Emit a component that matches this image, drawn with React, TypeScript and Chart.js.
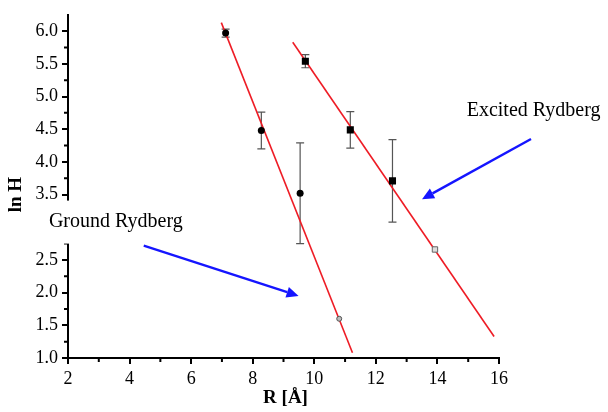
import React, { useEffect, useRef } from "react";
import { Chart, registerables } from "chart.js";
Chart.register(...registerables);

// ---- data ----
const groundR = [7.12, 8.28, 9.54];
const groundLnH = [5.97, 4.48, 3.52];
const groundErr = [0.06, 0.28, 0.77];
const groundOpenR = [10.81];
const groundOpenLnH = [1.6];

const excitedR = [9.71, 11.17, 12.54];
const excitedLnH = [5.54, 4.49, 3.71];
const excitedErr = [0.1, 0.28, 0.63];
const excitedOpenR = [13.92];
const excitedOpenLnH = [2.66];

const groundFitR = [6.98, 11.24];
const groundFitLnH = [6.13, 1.08];
const excitedFitR = [9.3, 15.84];
const excitedFitLnH = [5.83, 1.33];

const xMin = 2, xMax = 16, xStep = 2;
const yMin = 1.0, yMax = 6.25, yStep = 0.5;

// annotation anchors (data coordinates)
const groundArrowFrom = [4.46, 2.72];
const groundArrowTo = [9.49, 1.95];
const excitedArrowFrom = [17.04, 4.35];
const excitedArrowTo = [13.5, 3.43];
const groundLabel = { text: "Ground Rydberg", x: 1.38, y: 3.01 };
const excitedLabel = { text: "Excited Rydberg", x: 14.95, y: 4.7 };
const xTitle = "R [Å]";
const yTitle = "ln H";

const SERIF = "'Liberation Serif', 'Times New Roman', serif";

const pts = (xs: number[], ys: number[]) => xs.map((x, i) => ({ x, y: ys[i] }));

export default function App() {
  const ref = useRef<HTMLCanvasElement>(null);
  useEffect(() => {
    if (!ref.current) return;
    const plugin = {
      id: "extras",
      beforeDatasetsDraw(chart: any) {
        const { ctx, scales } = chart;
        const xs = scales.x, ys = scales.y;
        ctx.save();
        ctx.strokeStyle = "#555";
        ctx.lineWidth = 1.2;
        const drawErr = (rs: number[], vs: number[], es: number[]) => {
          rs.forEach((r, i) => {
            const px = xs.getPixelForValue(r);
            const t = ys.getPixelForValue(vs[i] + es[i]);
            const b = ys.getPixelForValue(vs[i] - es[i]);
            ctx.beginPath();
            ctx.moveTo(px, t); ctx.lineTo(px, b);
            ctx.moveTo(px - 4, t); ctx.lineTo(px + 4, t);
            ctx.moveTo(px - 4, b); ctx.lineTo(px + 4, b);
            ctx.stroke();
          });
        };
        drawErr(groundR, groundLnH, groundErr);
        drawErr(excitedR, excitedLnH, excitedErr);
        ctx.restore();
      },
      afterDraw(chart: any) {
        const { ctx, scales, chartArea } = chart;
        const xs = scales.x, ys = scales.y;
        ctx.save();
        // minor ticks
        ctx.strokeStyle = "#000";
        ctx.lineWidth = 2;
        ctx.beginPath();
        for (let v = xMin + xStep / 2; v < xMax; v += xStep) {
          const px = xs.getPixelForValue(v);
          ctx.moveTo(px, chartArea.bottom);
          ctx.lineTo(px, chartArea.bottom + 4);
        }
        for (let v = yMin + yStep / 2; v < yMax - 0.01; v += yStep) {
          const py = ys.getPixelForValue(v);
          ctx.moveTo(chartArea.left, py);
          ctx.lineTo(chartArea.left - 4, py);
        }
        ctx.stroke();

        // Ground label with white box
        ctx.font = `20px ${SERIF}`;
        const gx = xs.getPixelForValue(groundLabel.x);
        const gy = ys.getPixelForValue(groundLabel.y);
        const gw = ctx.measureText(groundLabel.text).width;
        ctx.fillStyle = "#fff";
        ctx.fillRect(gx - 23, gy - 26, gw + 31, 43);
        ctx.fillStyle = "#000";
        ctx.textBaseline = "alphabetic";
        ctx.textAlign = "left";
        ctx.fillText(groundLabel.text, gx, gy);

        // Excited label
        ctx.fillText(excitedLabel.text, xs.getPixelForValue(excitedLabel.x), ys.getPixelForValue(excitedLabel.y));

        // arrows
        const arrow = (from: number[], to: number[]) => {
          const x1 = xs.getPixelForValue(from[0]), y1 = ys.getPixelForValue(from[1]);
          const x2 = xs.getPixelForValue(to[0]), y2 = ys.getPixelForValue(to[1]);
          const ang = Math.atan2(y2 - y1, x2 - x1);
          const hl = 12, hw = 5.5;
          const bx = x2 - hl * Math.cos(ang), by = y2 - hl * Math.sin(ang);
          ctx.strokeStyle = "#1515ff";
          ctx.fillStyle = "#1515ff";
          ctx.lineWidth = 2.4;
          ctx.beginPath();
          ctx.moveTo(x1, y1); ctx.lineTo(bx, by);
          ctx.stroke();
          ctx.beginPath();
          ctx.moveTo(x2, y2);
          ctx.lineTo(bx + hw * Math.sin(ang), by - hw * Math.cos(ang));
          ctx.lineTo(bx - hw * Math.sin(ang), by + hw * Math.cos(ang));
          ctx.closePath();
          ctx.fill();
        };
        arrow(groundArrowFrom, groundArrowTo);
        arrow(excitedArrowFrom, excitedArrowTo);

        // axis titles
        ctx.fillStyle = "#000";
        ctx.font = `bold 19px ${SERIF}`;
        ctx.textAlign = "center";
        ctx.textBaseline = "alphabetic";
        ctx.fillText(xTitle, (chartArea.left + chartArea.right) / 2 + 2, 403);
        ctx.save();
        ctx.translate(21, ys.getPixelForValue(3.5));
        ctx.rotate(-Math.PI / 2);
        ctx.fillText(yTitle, 0, 0);
        ctx.restore();
        ctx.restore();
      },
    };

    const chart = new Chart(ref.current, {
      type: "scatter",
      data: {
        datasets: [
          { data: pts(groundR, groundLnH), pointStyle: "circle", pointRadius: 3.5, backgroundColor: "#000", borderColor: "#000", borderWidth: 0, order: 0 },
          { data: pts(groundOpenR, groundOpenLnH), pointStyle: "circle", pointRadius: 2.5, backgroundColor: "#bbb", borderColor: "#555", borderWidth: 1, order: 0 },
          { data: pts(excitedR, excitedLnH), pointStyle: "rect", pointRadius: 5, backgroundColor: "#000", borderColor: "#000", borderWidth: 0, order: 0 },
          { data: pts(excitedOpenR, excitedOpenLnH), pointStyle: "rect", pointRadius: 3.8, backgroundColor: "#ddd", borderColor: "#666", borderWidth: 1, order: 0 },
          { data: pts(groundFitR, groundFitLnH), showLine: true, pointRadius: 0, borderColor: "#ee1c25", borderWidth: 1.6, order: 1 },
          { data: pts(excitedFitR, excitedFitLnH), showLine: true, pointRadius: 0, borderColor: "#ee1c25", borderWidth: 1.6, order: 1 },
        ],
      } as any,
      options: {
        animation: false,
        responsive: false,
        devicePixelRatio: 1,
        layout: { padding: { left: 0, top: 10, right: 109, bottom: 0 } },
        plugins: { legend: { display: false }, tooltip: { enabled: false } },
        scales: {
          x: {
            type: "linear",
            min: xMin,
            max: xMax,
            afterFit: (s: any) => { s.height = 54; },
            ticks: { stepSize: xStep, includeBounds: false, color: "#000", font: { family: SERIF, size: 18 }, padding: 4, maxRotation: 0 },
            grid: { drawOnChartArea: false, drawTicks: true, tickLength: 6, color: "#000", lineWidth: 2 },
            border: { display: true, color: "#000", width: 2 },
          },
          y: {
            type: "linear",
            min: yMin,
            max: yMax,
            afterFit: (s: any) => { s.width = 68; },
            ticks: { stepSize: yStep, includeBounds: false, color: "#000", font: { family: SERIF, size: 18 }, padding: 4, callback: (v: any) => Number(v).toFixed(1) },
            grid: { drawOnChartArea: false, drawTicks: true, tickLength: 6, color: "#000", lineWidth: 2 },
            border: { display: true, color: "#000", width: 2 },
          },
        },
      } as any,
      plugins: [plugin],
    });
    return () => chart.destroy();
  }, []);

  return (
    <div style={{ position: "absolute", left: 0, top: 0, width: 608, height: 412, background: "#fff" }}>
      <canvas ref={ref} width={608} height={412} style={{ display: "block" }} />
    </div>
  );
}
